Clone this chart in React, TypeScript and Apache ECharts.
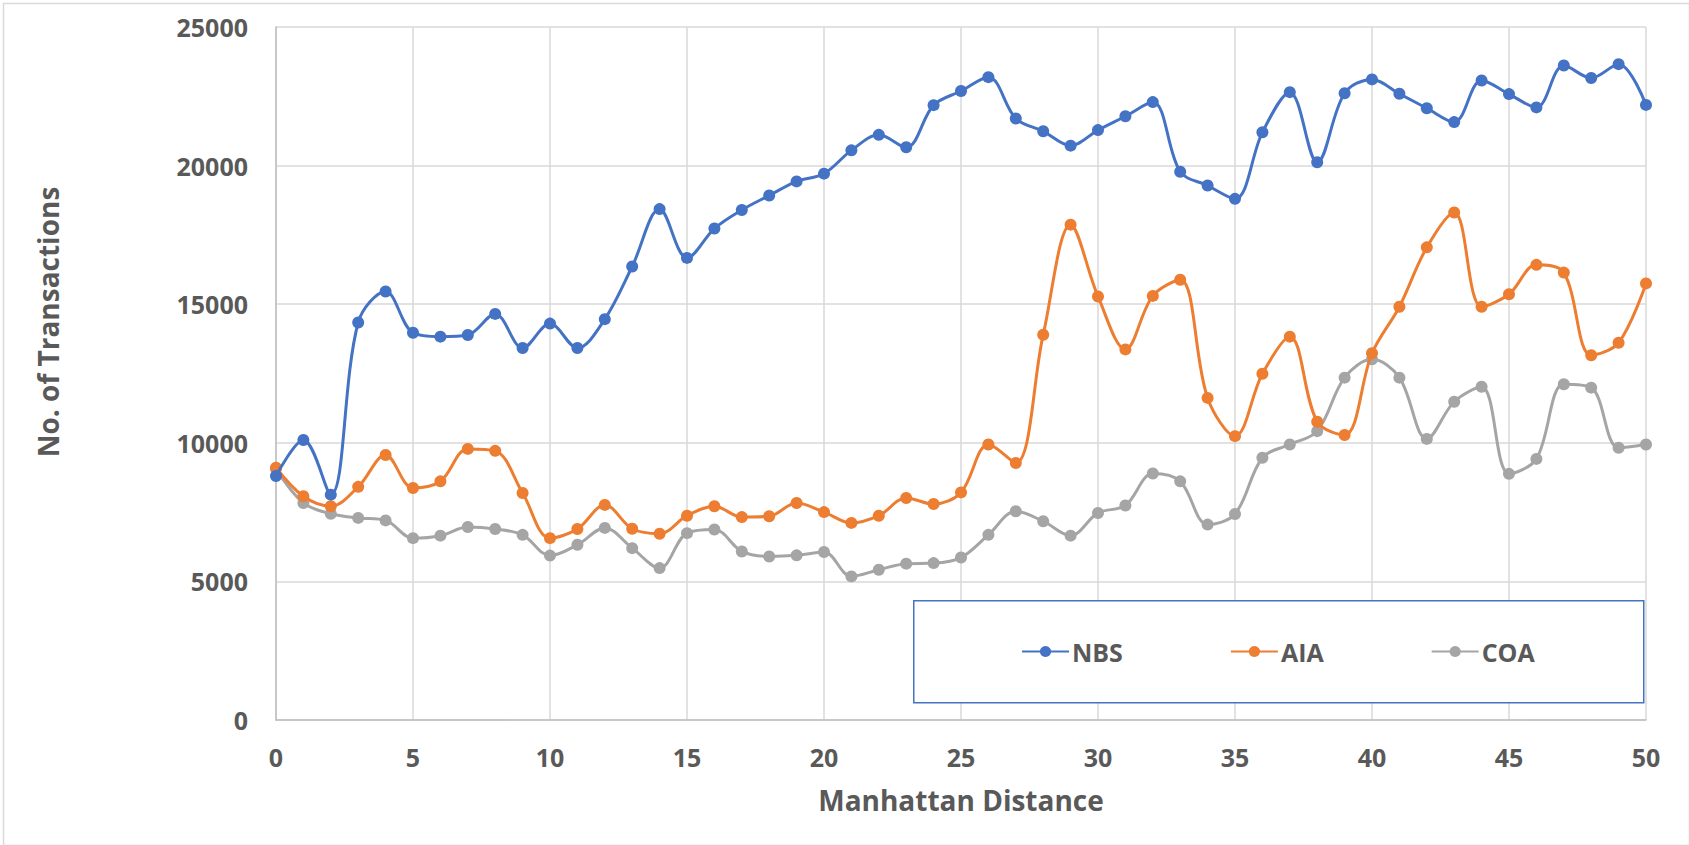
import React, { useEffect, useRef } from "react";
import * as echarts from "echarts";

const distances: number[] = Array.from({ length: 51 }, (_, i) => i);

const nbs: number[] = [
  8800, 10100, 8130, 14340, 15460, 13970, 13830, 13890, 14650, 13420,
  14300, 13420, 14460, 16360, 18430, 16670, 17730, 18400, 18920, 19430,
  19710, 20550, 21110, 20660, 22180, 22690, 23190, 21700, 21240, 20720,
  21280, 21780, 22290, 19780, 19280, 18800, 21200, 22650, 20120, 22610,
  23110, 22590, 22070, 21570, 23070, 22580, 22100, 23610, 23160, 23660,
  22190,
];

const aia: number[] = [
  9100, 8070, 7710, 8410, 9560, 8370, 8610, 9780, 9710, 8190,
  6560, 6890, 7760, 6900, 6720, 7370, 7710, 7320, 7350, 7830,
  7500, 7110, 7370, 8010, 7790, 8210, 9940, 9270, 13900, 17870,
  15280, 13370, 15300, 15880, 11620, 10240, 12490, 13830, 10760, 10280,
  13230, 14910, 17050, 18310, 14910, 15360, 16420, 16140, 13160, 13610,
  15750,
];

const coa: number[] = [
  9060, 7830, 7440, 7290, 7200, 6560, 6650, 6960, 6890, 6680,
  5930, 6320, 6930, 6200, 5480, 6740, 6870, 6080, 5900, 5940,
  6060, 5180, 5420, 5640, 5660, 5860, 6680, 7530, 7170, 6650,
  7470, 7740, 8890, 8610, 7050, 7430, 9460, 9940, 10420, 12350,
  13010, 12350, 10140, 11480, 12020, 8880, 9420, 12110, 11990, 9820,
  9940,
];

const seriesNames: string[] = ["NBS", "AIA", "COA"];
const seriesColors: string[] = ["#4472C4", "#ED7D31", "#A5A5A5"];

const xTitle = "Manhattan Distance";
const yTitle = "No. of Transactions";

const FONT = "'Open Sans', 'Noto Sans', sans-serif";
const TEXT = "#595959";

export default function App() {
  const ref = useRef<HTMLDivElement>(null);

  useEffect(() => {
    if (!ref.current) return;
    const chart = echarts.init(ref.current, undefined, { renderer: "svg" });
    const allData = [nbs, aia, coa];
    const series = allData.map((vals, k) => ({
      name: seriesNames[k],
      type: "line",
      smooth: 0.35,
      symbol: "circle",
      symbolSize: 12,
      showSymbol: true,
      lineStyle: { width: 3, color: seriesColors[k] },
      itemStyle: { color: seriesColors[k] },
      data: distances.map((d, i) => [d, vals[i]]),
      z: 10 - k,
    }));

    chart.setOption({
      animation: false,
      backgroundColor: "#ffffff",
      textStyle: { fontFamily: FONT },
      grid: { left: 276, right: 43, top: 27, bottom: 125, containLabel: false },
      xAxis: {
        type: "value",
        min: 0,
        max: 50,
        interval: 5,
        name: xTitle,
        nameLocation: "middle",
        nameGap: 66,
        nameTextStyle: { fontSize: 28, fontWeight: "bold", color: TEXT, fontFamily: FONT },
        axisLine: { show: true, lineStyle: { color: "#BFBFBF", width: 1.5 } },
        axisTick: { show: false },
        axisLabel: { margin: 24, fontSize: 25, fontWeight: "bold", color: TEXT, fontFamily: FONT },
        splitLine: { show: true, lineStyle: { color: "#D9D9D9", width: 1.5 } },
      },
      yAxis: {
        type: "value",
        min: 0,
        max: 25000,
        interval: 5000,
        axisLine: { show: true, lineStyle: { color: "#BFBFBF", width: 1.5 } },
        axisTick: { show: false },
        axisLabel: {
          margin: 28,
          fontSize: 25,
          fontWeight: "bold",
          color: TEXT,
          fontFamily: FONT,
          formatter: (v: number) => String(v),
        },
        splitLine: { show: true, lineStyle: { color: "#D9D9D9", width: 1.5 } },
      },
      legend: {
        data: seriesNames,
        left: 1021,
        top: 639,
        padding: 0,
        itemGap: 107,
        itemWidth: 47,
        itemHeight: 14,
        textStyle: { fontSize: 25, fontWeight: "bold", color: TEXT, fontFamily: FONT, padding: [0, 0, 0, -2] },
      },
      graphic: [
        {
          type: "rect",
          left: 1,
          top: 1,
          shape: { width: 1686, height: 842 },
          style: { fill: "none", stroke: "#D9D9D9", lineWidth: 1.5 },
          silent: true,
          z: -1,
        },
        {
          type: "rect",
          left: 913,
          top: 600,
          shape: { width: 730, height: 102 },
          style: { fill: "#ffffff", stroke: "#4472C4", lineWidth: 1.5 },
          silent: true,
          z: 1,
        },
        {
          type: "text",
          x: 48,
          y: 322,
          rotation: Math.PI / 2,
          silent: true,
          style: {
            text: yTitle,
            fontSize: 28,
            fontWeight: "bold",
            fontFamily: FONT,
            fill: TEXT,
            align: "center",
            verticalAlign: "middle",
          },
        },
      ],
      series,
    });
    return () => chart.dispose();
  }, []);

  return (
    <div
      ref={ref}
      style={{ position: "absolute", left: 0, top: 0, width: 1689, height: 845 }}
    />
  );
}
